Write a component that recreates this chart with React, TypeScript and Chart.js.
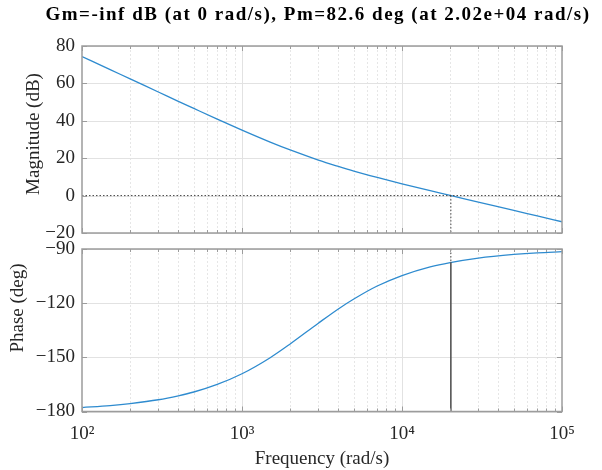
import React, { useEffect, useRef } from 'react';
import { Chart, registerables } from 'chart.js';

Chart.register(...registerables);

// ---- data ----
const freqs = [100, 150, 200, 300, 400, 500, 700, 1000, 1500, 2000, 3000, 4000, 5000, 7000, 10000, 15000, 20000, 30000, 50000, 70000, 100000];
const magnitudeDb = [74.4, 67.4, 62.4, 55.4, 50.4, 46.6, 40.9, 35.0, 28.6, 24.4, 19.0, 15.6, 13.1, 9.7, 6.3, 2.6, 0.1, -3.5, -7.9, -10.9, -14.0];
const phaseDeg = [-177.8, -176.7, -175.6, -173.5, -171.3, -169.2, -165.0, -159.1, -150.2, -142.6, -131.1, -123.2, -117.7, -110.5, -104.7, -99.9, -97.5, -95.0, -93.0, -92.1, -91.5];
const magTicks = [-20, 0, 20, 40, 60, 80];
const phaseTicks = [-180, -150, -120, -90];
const freqTickValues = [100, 1000, 10000, 100000];
const freqTickLabels = ['10\u00B2', '10\u00B3', '10\u2074', '10\u2075'];
const crossoverFreq = 2.02e4;
const phaseAtCrossover = -97.4;
const titleText = 'Gm=-inf dB (at 0 rad/s), Pm=82.6 deg (at 2.02e+04 rad/s)';
const magLabel = 'Magnitude (dB)';
const phaseLabel = 'Phase (deg)';
const freqLabel = 'Frequency (rad/s)';

const FONT = "'Liberation Serif', 'Times New Roman', serif";
const TEXT = '#262626';
const AXIS = '#9c9c9c';
const GRID = '#e2e2e2';
const MINOR = '#e6e6e6';
const LINE = '#2e8bcf';
const REF = '#404040';

const fmt = (v: number) => (v < 0 ? '\u2212' + Math.abs(v) : String(v));

function decor(yTitle: string, yTitleX: number, yTitleY: number, mainTitle?: string) {
  return {
    id: 'bodeDecor',
    beforeDatasetsDraw(chart: any) {
      const { ctx, chartArea: a, scales } = chart;
      const xs = scales.x;
      const ys = scales.y;
      ctx.save();
      ctx.lineWidth = 1;
      ctx.strokeStyle = MINOR;
      ctx.setLineDash([2, 2]);
      for (let d = 2; d < 5; d++) {
        for (let m = 2; m <= 9; m++) {
          const px = Math.round(xs.getPixelForValue(m * Math.pow(10, d))) + 0.5;
          ctx.beginPath();
          ctx.moveTo(px, a.top);
          ctx.lineTo(px, a.bottom);
          ctx.stroke();
        }
      }
      ctx.setLineDash([]);
      ctx.strokeStyle = GRID;
      for (const v of [1e3, 1e4]) {
        const px = Math.round(xs.getPixelForValue(v)) + 0.5;
        ctx.beginPath();
        ctx.moveTo(px, a.top);
        ctx.lineTo(px, a.bottom);
        ctx.stroke();
      }
      for (const t of ys.ticks) {
        const py = Math.round(ys.getPixelForValue(t.value)) + 0.5;
        ctx.beginPath();
        ctx.moveTo(a.left, py);
        ctx.lineTo(a.right, py);
        ctx.stroke();
      }
      ctx.restore();
    },
    afterDatasetsDraw(chart: any) {
      const { ctx, chartArea: a, scales } = chart;
      const xs = scales.x;
      const ys = scales.y;
      ctx.save();
      ctx.strokeStyle = AXIS;
      ctx.lineWidth = 1;
      for (let d = 2; d <= 5; d++) {
        for (let m = 1; m <= 9; m++) {
          const v = m * Math.pow(10, d);
          if (v > 1e5) break;
          const px = Math.round(xs.getPixelForValue(v)) + 0.5;
          const len = m === 1 ? 5 : 3;
          ctx.beginPath();
          ctx.moveTo(px, a.bottom);
          ctx.lineTo(px, a.bottom - len);
          ctx.moveTo(px, a.top);
          ctx.lineTo(px, a.top + len);
          ctx.stroke();
        }
      }
      for (const t of ys.ticks) {
        const py = Math.round(ys.getPixelForValue(t.value)) + 0.5;
        ctx.beginPath();
        ctx.moveTo(a.left, py);
        ctx.lineTo(a.left + 5, py);
        ctx.moveTo(a.right, py);
        ctx.lineTo(a.right - 5, py);
        ctx.stroke();
      }
      ctx.lineWidth = 1.5;
      ctx.strokeRect(a.left, a.top, a.right - a.left, a.bottom - a.top);
      ctx.restore();
    },
    afterDraw(chart: any) {
      const { ctx } = chart;
      ctx.save();
      ctx.fillStyle = TEXT;
      ctx.font = `19px ${FONT}`;
      ctx.textAlign = 'center';
      ctx.textBaseline = 'middle';
      ctx.translate(yTitleX, yTitleY);
      ctx.rotate(-Math.PI / 2);
      ctx.fillText(yTitle, 0, 0);
      ctx.restore();
      if (mainTitle) {
        ctx.save();
        ctx.fillStyle = '#000';
        ctx.font = `bold 19px ${FONT}`;
        (ctx as any).letterSpacing = '1.5px';
        ctx.textAlign = 'center';
        ctx.textBaseline = 'alphabetic';
        ctx.fillText(mainTitle, 318, 19.5);
        ctx.restore();
      }
    },
  };
}

const curve = (ys: number[]) => ({
  data: freqs.map((f, i) => ({ x: f, y: ys[i] })),
  borderColor: LINE,
  borderWidth: 1.3,
  pointRadius: 0,
  cubicInterpolationMode: 'monotone' as const,
  fill: false,
});

const refLine = (pts: { x: number; y: number }[], dashed: boolean, color = REF, width = 1) => ({
  data: pts,
  borderColor: color,
  borderWidth: width,
  borderDash: dashed ? [1.5, 2] : [],
  pointRadius: 0,
  tension: 0,
  clip: false as any,
  fill: false,
});

const tickFont = { family: FONT, size: 19 };

const noPad = (s: any) => {
  s.paddingTop = 0;
  s.paddingBottom = 0;
  s.paddingLeft = 0;
  s.paddingRight = 0;
};

export default function App() {
  const magRef = useRef<HTMLCanvasElement>(null);
  const phaseRef = useRef<HTMLCanvasElement>(null);

  useEffect(() => {
    document.body.style.margin = '0';
    const fMin = freqs[0];
    const fMax = freqs[freqs.length - 1];

    const c1 = new Chart(magRef.current!, {
      type: 'line',
      data: {
        datasets: [
          refLine([{ x: fMin, y: 0 }, { x: fMax, y: 0 }], true),
          refLine([{ x: crossoverFreq, y: 0 }, { x: crossoverFreq, y: magTicks[0] }], true),
          curve(magnitudeDb),
        ] as any,
      },
      options: {
        animation: false,
        responsive: false,
        events: [],
        layout: { padding: { left: 22, right: 40, top: 46, bottom: 7 } },
        plugins: { legend: { display: false }, tooltip: { enabled: false } },
        scales: {
          x: { type: 'logarithmic', min: fMin, max: fMax, display: false, afterFit: noPad },
          y: {
            min: magTicks[0],
            max: magTicks[magTicks.length - 1],
            afterBuildTicks: (s: any) => { s.ticks = magTicks.map((v) => ({ value: v })); },
            afterFit: (s: any) => { s.width = 60; noPad(s); },
            grid: { display: false, drawTicks: false },
            border: { display: false },
            ticks: { font: tickFont, color: TEXT, padding: 7, callback: (v: any) => fmt(Number(v)) },
          },
        },
      } as any,
      plugins: [decor(magLabel, 34, 134, titleText)],
    });

    const c2 = new Chart(phaseRef.current!, {
      type: 'line',
      data: {
        datasets: [
          refLine([{ x: fMin, y: phaseTicks[0] }, { x: fMax, y: phaseTicks[0] }], true),
          refLine([{ x: crossoverFreq, y: phaseTicks[phaseTicks.length - 1] }, { x: crossoverFreq, y: phaseAtCrossover }], true),
          refLine([{ x: crossoverFreq, y: phaseAtCrossover }, { x: crossoverFreq, y: phaseTicks[0] }], false, '#555555', 1.6),
          curve(phaseDeg),
        ] as any,
      },
      options: {
        animation: false,
        responsive: false,
        events: [],
        layout: { padding: { left: 6, right: 40, top: 9, bottom: 0 } },
        plugins: { legend: { display: false }, tooltip: { enabled: false } },
        scales: {
          x: {
            type: 'logarithmic',
            min: fMin,
            max: fMax,
            afterBuildTicks: (s: any) => { s.ticks = freqTickValues.map((v) => ({ value: v })); },
            afterFit: (s: any) => { s.height = 58.5; noPad(s); },
            grid: { display: false, drawTicks: false },
            border: { display: false },
            ticks: {
              font: tickFont,
              color: TEXT,
              padding: 11,
              autoSkip: false,
              maxRotation: 0,
              callback: (_v: any, i: number) => freqTickLabels[i],
            },
            title: { display: true, text: freqLabel, font: tickFont, color: TEXT, padding: { top: 0, bottom: 0 } },
          },
          y: {
            min: phaseTicks[0],
            max: phaseTicks[phaseTicks.length - 1],
            afterBuildTicks: (s: any) => { s.ticks = phaseTicks.map((v) => ({ value: v })); },
            afterFit: (s: any) => { s.width = 76; noPad(s); },
            grid: { display: false, drawTicks: false },
            border: { display: false },
            ticks: { font: tickFont, color: TEXT, padding: 7, callback: (v: any) => fmt(Number(v)) },
          },
        },
      } as any,
      plugins: [decor(phaseLabel, 18, 68)],
    });

    return () => {
      c1.destroy();
      c2.destroy();
    };
  }, []);

  return (
    <div style={{ position: 'relative', width: 602, height: 470, background: '#ffffff' }}>
      <canvas ref={magRef} width={602} height={240} style={{ position: 'absolute', left: 0, top: 0 }} />
      <canvas ref={phaseRef} width={602} height={230} style={{ position: 'absolute', left: 0, top: 240 }} />
    </div>
  );
}
